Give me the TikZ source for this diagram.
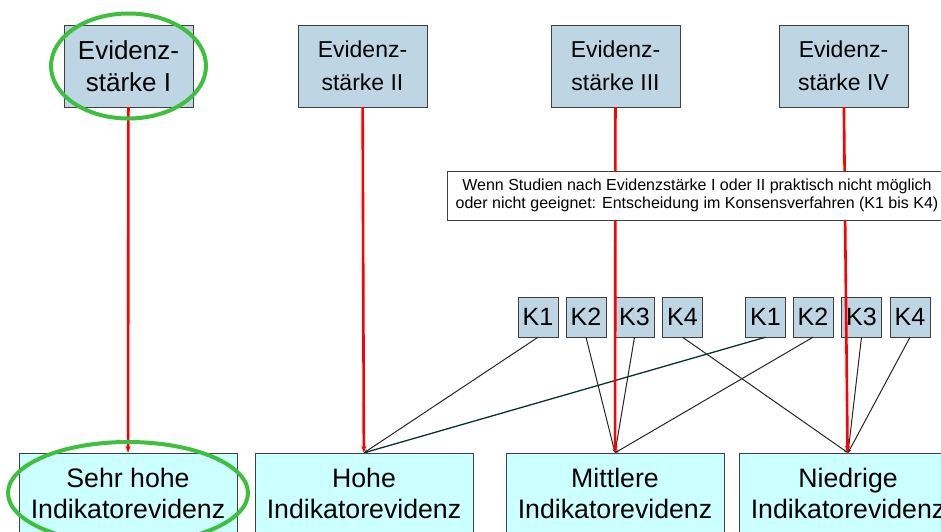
\documentclass[tikz,border=0pt]{standalone}
\usepackage{fontspec}
\setmainfont{Liberation Sans}
\usetikzlibrary{arrows.meta,positioning}
\definecolor{evblue}{RGB}{190,214,227}
\definecolor{evcyan}{RGB}{204,255,255}
\definecolor{evgreen}{RGB}{62,192,62}
\definecolor{evframe}{RGB}{64,64,64}
\definecolor{evdark}{RGB}{16,48,48}
\tikzset{
    stufe/.style={
    rectangle,draw=evframe,fill=evblue,minimum width=129pt,minimum height=82pt,inner sep=0pt,align=center,font=\fontsize{23}{33}\selectfont
    },
    konsens/.style={
    rectangle,draw=evframe,fill=evblue,minimum width=40pt,minimum height=40pt,inner sep=0pt,font=\fontsize{25}{30}\selectfont
    },
    ergebnis/.style={
    rectangle,draw=evframe,fill=evcyan,minimum width=218pt,minimum height=80pt,inner sep=0pt,align=center,font=\fontsize{26.7}{31}\selectfont
    },
    hinweis/.style={
    rectangle,draw=evframe,fill=white,minimum width=500pt,minimum height=49pt,inner sep=0pt,align=center,font=\fontsize{16}{18.5}\selectfont
    },
    pfeil/.style={
    draw=red,line width=2.6pt,-{Stealth[length=7pt,width=5pt]}
    },
    zuordnung/.style={
    draw=black!85,line width=1pt,-{Stealth[length=4pt,width=3pt]}
    },
    markierung/.style={
    draw=evgreen,line width=4pt
    },
}
\begin{document}
\begin{tikzpicture}[x=1pt, y=-1pt]
   \useasboundingbox (0,0) rectangle (941,531);
   \clip (0,0) rectangle (941,531);
   % Evidenzstaerken
   \node[stufe,font=\fontsize{26}{32}\selectfont] (e1) at (128.5,66) {Evidenz-\\stärke I};
   \node[stufe] (e2) at (362.5,66) {Evidenz-\\stärke II};
   \node[stufe] (e3) at (615.5,66) {Evidenz-\\stärke III};
   \node[stufe] (e4) at (843.5,66) {Evidenz-\\stärke IV};
   % Indikatorevidenz
   \node[ergebnis] (i1) at (128,493) {Sehr hohe\\Indikatorevidenz};
   \node[ergebnis] (i2) at (364,493) {Hohe\\Indikatorevidenz};
   \node[ergebnis] (i3) at (615,493) {Mittlere\\Indikatorevidenz};
   \node[ergebnis] (i4) at (848,493) {Niedrige\\Indikatorevidenz};
   % Konsensverfahren
   \node[konsens] (ka1) at (538,317) {K1};
   \node[konsens] (ka2) at (586,317) {K2};
   \node[konsens] (ka3) at (634.5,317) {K3};
   \node[konsens] (ka4) at (682.5,317) {K4};
   \node[konsens] (kb1) at (765.5,317) {K1};
   \node[konsens] (kb2) at (813,317) {K2};
   \node[konsens] (kb3) at (861.5,317) {K3};
   \node[konsens] (kb4) at (910,317) {K4};

  \path[every edge/.style={zuordnung}]
    (ka1.south) edge (i2.north)
    (ka2.south) edge (i3.north)
    (ka3.south) edge (i3.north)
    (ka4.south) edge (i4.north)
    (kb1.south) edge [draw=evdark,line width=1.3pt] (i2.north)
    (kb2.south) edge (i3.north)
    (kb3.south) edge (i4.north)
    (kb4.south) edge (i4.north);
  \path[every edge/.style={pfeil}]
    (e1) edge (i1)
    (e2) edge (i2)
    (e3) edge (i3)
    (e4) edge (i4);

   \node[hinweis] (note) at (697,195.5) {Wenn Studien nach Evidenzstärke I oder II praktisch nicht möglich\\oder nicht geeignet: Entscheidung im Konsensverfahren (K1 bis K4)};
   % Hervorhebung
   \draw[markierung] (e1.center) ellipse [x radius=77.5, y radius=52.5];
   \draw[markierung] (i1.center) ellipse [x radius=120, y radius=51];
  \end{tikzpicture}
\end{document}
